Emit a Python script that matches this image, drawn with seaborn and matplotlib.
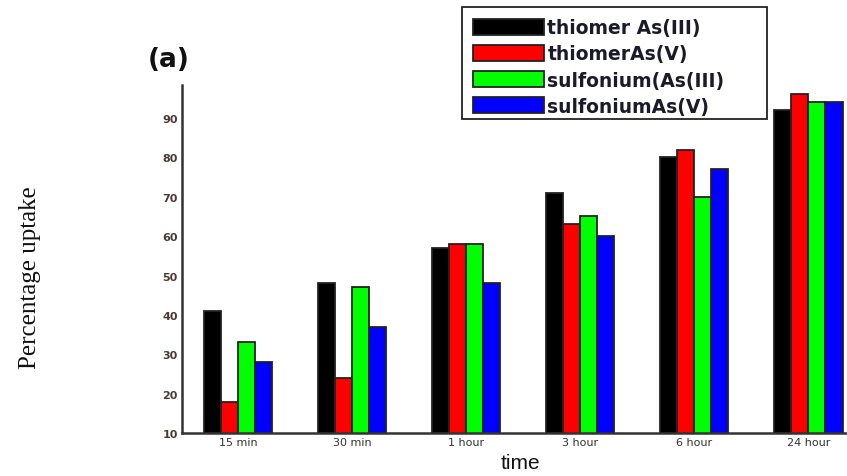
import matplotlib
matplotlib.use("Agg")
import matplotlib.pyplot as plt
from matplotlib.patches import Rectangle
import seaborn as sns
import pandas as pd

# Uptake data per contact time
times = ["15 min", "30 min", "1 hour", "3 hour", "6 hour", "24 hour"]
series = ["thiomer As(III)", "thiomerAs(V)", "sulfonium(As(III)", "sulfoniumAs(V)"]
thiomer_as3 = [41, 48, 57, 71, 80, 92]
thiomer_as5 = [18, 24, 58, 63, 82, 96]
sulfonium_as3 = [33, 47, 58, 65, 70, 94]
sulfonium_as5 = [28, 37, 48, 60, 77, 94]
y_ticks = [10, 20, 30, 40, 50, 60, 70, 80, 90]

colors = ["#000000", "#ff0000", "#00ff00", "#0000ff"]

rows = []
for name, vals in zip(series, [thiomer_as3, thiomer_as5, sulfonium_as3, sulfonium_as5]):
    for t, v in zip(times, vals):
        rows.append({"time": t, "uptake": v, "sample": name})
df = pd.DataFrame(rows)

sns.set_theme(style="white")
plt.rcParams["font.family"] = ["Liberation Sans", "DejaVu Sans"]

fig = plt.figure(figsize=(8.47, 4.77), dpi=100)
ax = fig.add_axes([0.2149, 0.0901, 0.80, 0.7296])

sns.barplot(data=df, x="time", y="uptake", hue="sample", order=times,
            hue_order=series, palette=colors, saturation=1, width=0.6, gap=0,
            edgecolor="#222222", linewidth=1.3, ax=ax, legend=True)

ax.set_ylim(10, 98.4)
ax.set_xlim(-0.49, 5.45)
ax.set_yticks(y_ticks)
ax.set_yticklabels([str(v) for v in y_ticks], fontsize=8, color="#4a3a30",
                   fontweight="bold", family=["DejaVu Sans"])
ax.set_xticks(range(len(times)))
ax.set_xticklabels(times, fontsize=8, color="#333333", family=["DejaVu Sans"])
ax.tick_params(axis="both", length=0, pad=3)

for s in ["top", "right"]:
    ax.spines[s].set_visible(False)
for s in ["left", "bottom"]:
    ax.spines[s].set_color("#333333")
    ax.spines[s].set_linewidth(1.8)

ax.set_xlabel("time", fontsize=15, color="#111111", labelpad=4)
ax.set_ylabel("")
fig.text(0.036, 0.418, "Percentage uptake", rotation=90, ha="center", va="center",
         fontsize=18, family=["Liberation Serif"], color="#111111")
fig.text(0.199, 0.874, "(a)", fontsize=19, fontweight="bold", ha="center",
         va="center", family=["DejaVu Sans"], color="#111111")

# Legend entries without their own frame; a plain box is drawn around them
handles, labels = ax.get_legend_handles_labels()
leg = ax.legend(handles, labels, loc="upper left", mode="expand",
                bbox_to_anchor=(462 / 847, 1 - 121 / 477, 305 / 847, 113 / 477),
                bbox_transform=fig.transFigure, frameon=False,
                prop={"size": 13.5, "weight": "bold", "family": "DejaVu Sans"},
                handlelength=3.75, handleheight=0.9, handletextpad=0.2,
                labelspacing=0.38, borderpad=0.6, borderaxespad=0)
for t in leg.get_texts():
    t.set_color("#1a1a2a")

fig.patches.append(Rectangle((462 / 847, 1 - 120 / 477), 305 / 847, 112 / 477,
                             transform=fig.transFigure, fill=False,
                             edgecolor="#222222", linewidth=1.3, zorder=5))

fig.savefig("out.png", dpi=100)
